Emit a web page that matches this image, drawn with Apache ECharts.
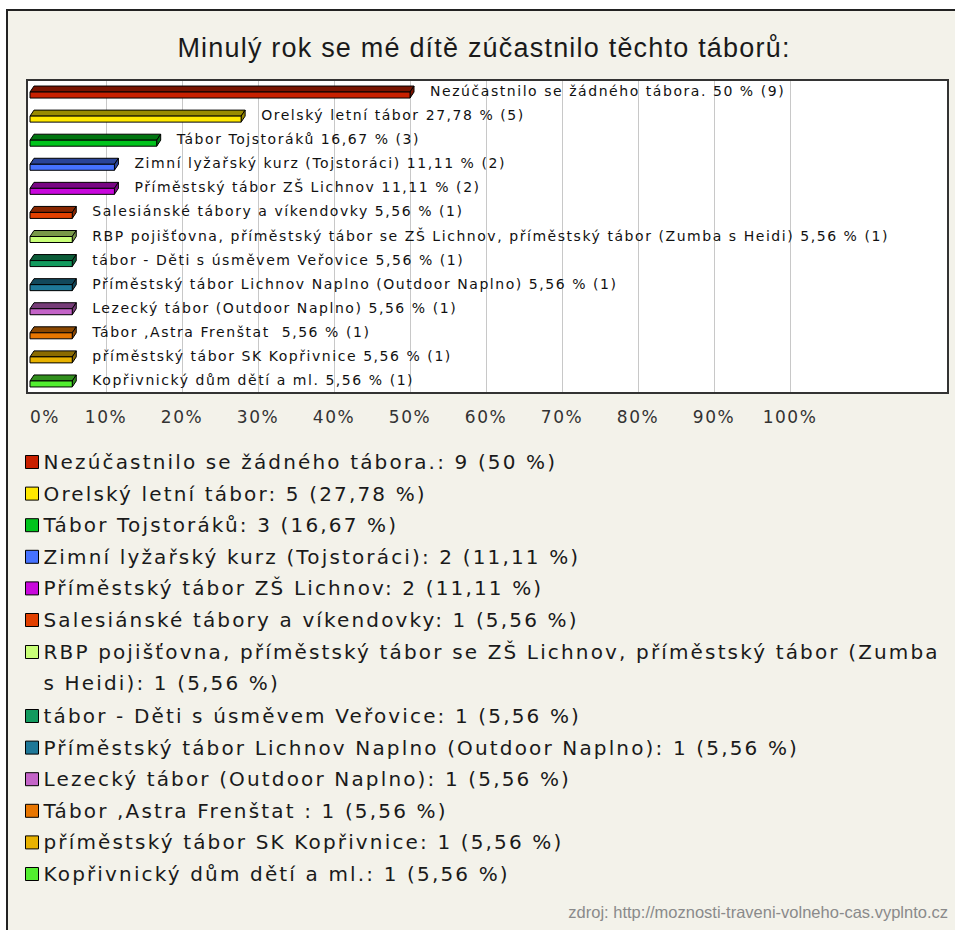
<!DOCTYPE html>
<html>
<head>
<meta charset="utf-8">
<script src="https://cdn.jsdelivr.net/npm/echarts@6/dist/echarts.min.js"></script>
<style>
html,body{margin:0;padding:0;background:#fff;}
#chart{width:955px;height:930px;}
#chart text[style*="14px"]{letter-spacing:1.55px;}
#chart text[style*="20px"]{letter-spacing:2.15px;}
#chart text[style*="17px"]{letter-spacing:1.5px;}
#chart text[style*="27px"]{letter-spacing:1.2px;}
</style>
</head>
<body>
<div id="chart"></div>
<script>
const titleText = 'Minulý rok se mé dítě zúčastnilo těchto táborů:';
const sourceText = 'zdroj: http://moznosti-traveni-volneho-cas.vyplnto.cz';
const categories = [
  'Nezúčastnilo se žádného tábora.',
  'Orelský letní tábor',
  'Tábor Tojstoráků',
  'Zimní lyžařský kurz (Tojstoráci)',
  'Příměstský tábor ZŠ Lichnov',
  'Salesiánské tábory a víkendovky',
  'RBP pojišťovna, příměstský tábor se ZŠ Lichnov, příměstský tábor (Zumba s Heidi)',
  'tábor - Děti s úsměvem Veřovice',
  'Příměstský tábor Lichnov Naplno (Outdoor Naplno)',
  'Lezecký tábor (Outdoor Naplno)',
  'Tábor ,Astra Frenštat ',
  'příměstský tábor SK Kopřivnice',
  'Kopřivnický dům dětí a ml.'
];
const counts = [9, 5, 3, 2, 2, 1, 1, 1, 1, 1, 1, 1, 1];
const percents = [50, 27.78, 16.67, 11.11, 11.11, 5.56, 5.56, 5.56, 5.56, 5.56, 5.56, 5.56, 5.56];
const colors = ['#c82000', '#ffe800', '#00c41c', '#4672ff', '#c808dc', '#e24000', '#c8ff78',
                '#129a5e', '#1e7898', '#c464c8', '#e87600', '#e8b200', '#52ee30'];
const tickValues = [0, 10, 20, 30, 40, 50, 60, 70, 80, 90, 100];

function pctStr(p) { return String(p).replace('.', ','); }
function darker(hex, f) {
  const n = parseInt(hex.slice(1), 16);
  const r = Math.round(((n >> 16) & 255) * f), g = Math.round(((n >> 8) & 255) * f), b = Math.round((n & 255) * f);
  return 'rgb(' + r + ',' + g + ',' + b + ')';
}
// word wrap by a maximum number of characters per line
function wrapChars(text, maxChars) {
  const words = text.split(' ');
  const lines = [];
  let cur = '';
  words.forEach(function (w) {
    const next = cur ? cur + ' ' + w : w;
    if (next.length > maxChars && cur) { lines.push(cur); cur = w; } else { cur = next; }
  });
  if (cur) lines.push(cur);
  return lines.join('\n');
}

function renderBar(params, api) {
  const v = api.value(0), c = api.value(1);
  const a = api.coord([0, c]), b = api.coord([v, c]);
  const y = a[1], x0 = a[0], x1 = b[0];
  const dx = 4, dy = 6, h = 6;
  const col = api.visual('color');
  const dark = darker(colors[c], 0.6);
  const i = c;
  return {
    type: 'group',
    children: [
      {type: 'polygon', shape: {points: [[x0, y], [x0 + dx, y - dy], [x1 + dx, y - dy], [x1, y]]},
       style: {fill: dark, stroke: '#000', lineWidth: 1}},
      {type: 'polygon', shape: {points: [[x1, y], [x1 + dx, y - dy], [x1 + dx, y + h - dy], [x1, y + h]]},
       style: {fill: dark, stroke: '#000', lineWidth: 1}},
      {type: 'rect', shape: {x: x0, y: y, width: x1 - x0, height: h},
       style: {fill: col, stroke: '#000', lineWidth: 1}},
      {type: 'text', x: x1 + 20, y: y - 1,
       style: {text: categories[i] + ' ' + pctStr(percents[i]) + ' % (' + counts[i] + ')',
               fontFamily: 'DejaVu Sans', fontSize: 14, fill: '#111', verticalAlign: 'middle', align: 'left'}}
    ]
  };
}

const series = categories.map(function (name, i) {
  return {
    type: 'custom',
    name: name,
    coordinateSystem: 'cartesian2d',
    itemStyle: {color: colors[i]},
    encode: {x: 0, y: 1},
    data: [[percents[i], i]],
    renderItem: renderBar,
    clip: false
  };
});

function legendText(name) {
  const i = categories.indexOf(name);
  return name + ': ' + counts[i] + ' (' + pctStr(percents[i]) + ' %)';
}
const legendBase = {
  orient: 'vertical', left: 25, padding: 0, itemWidth: 13, itemHeight: 13, itemGap: 0.6,
  icon: 'rect', selectedMode: false,
  itemStyle: {borderColor: '#000', borderWidth: 1},
  textStyle: {fontFamily: 'DejaVu Sans', fontSize: 20, color: '#1a1a1a', lineHeight: 31},
  formatter: legendText
};

const option = {
  animation: false,
  backgroundColor: '#ffffff',
  title: [
    {text: titleText, left: 484, top: 34, textAlign: 'center', padding: 0,
     textStyle: {fontFamily: 'Liberation Sans', fontSize: 27, fontWeight: 'normal', color: '#1a1a1a'}},
    {text: sourceText, right: 7, top: 903, padding: 0,
     textStyle: {fontFamily: 'Liberation Sans', fontSize: 16.5, fontWeight: 'normal', color: '#8a8a8a'}}
  ],
  graphic: {elements: [
    {type: 'rect', z: -10, shape: {x: 7, y: 10, width: 970, height: 950},
     style: {fill: '#f3f2ea', stroke: '#222', lineWidth: 2}},
    {type: 'rect', z: -9, shape: {x: 27, y: 80, width: 921, height: 313},
     style: {fill: '#ffffff'}},
    {type: 'rect', z: 100, shape: {x: 27, y: 80, width: 921, height: 313},
     style: {fill: 'none', stroke: '#333', lineWidth: 2}}
  ]},
  grid: {left: 30, right: 165, top: 80, bottom: 537, containLabel: false},
  xAxis: {
    type: 'value', min: 0, max: 100, interval: 10,
    axisLine: {show: false}, axisTick: {show: false},
    splitLine: {show: true, showMinLine: false, lineStyle: {color: '#c8c8c8', width: 1}},
    axisLabel: {formatter: function (v) { return tickValues.indexOf(v) >= 0 ? v + '%' : ''; },
                fontFamily: 'DejaVu Sans', fontSize: 17, color: '#333', margin: 15, alignMinLabel: 'left'}
  },
  yAxis: {
    type: 'category', data: categories, inverse: true,
    axisLine: {show: false}, axisTick: {show: false}, axisLabel: {show: false}, splitLine: {show: false}
  },
  legend: [
    Object.assign({}, legendBase, {top: 446.5, data: categories.slice(0, 6)}),
    Object.assign({}, legendBase, {top: 605.5, data: [categories[6]],
      // leading empty line keeps the icon level with the first line of the wrapped text
      formatter: function (name) { return '\n' + wrapChars(legendText(name), 71); }}),
    Object.assign({}, legendBase, {top: 700.5, data: categories.slice(7)})
  ],
  series: series
};

const chart = echarts.init(document.getElementById('chart'), null, {renderer: 'svg'});
chart.setOption(option);
</script>
</body>
</html>
